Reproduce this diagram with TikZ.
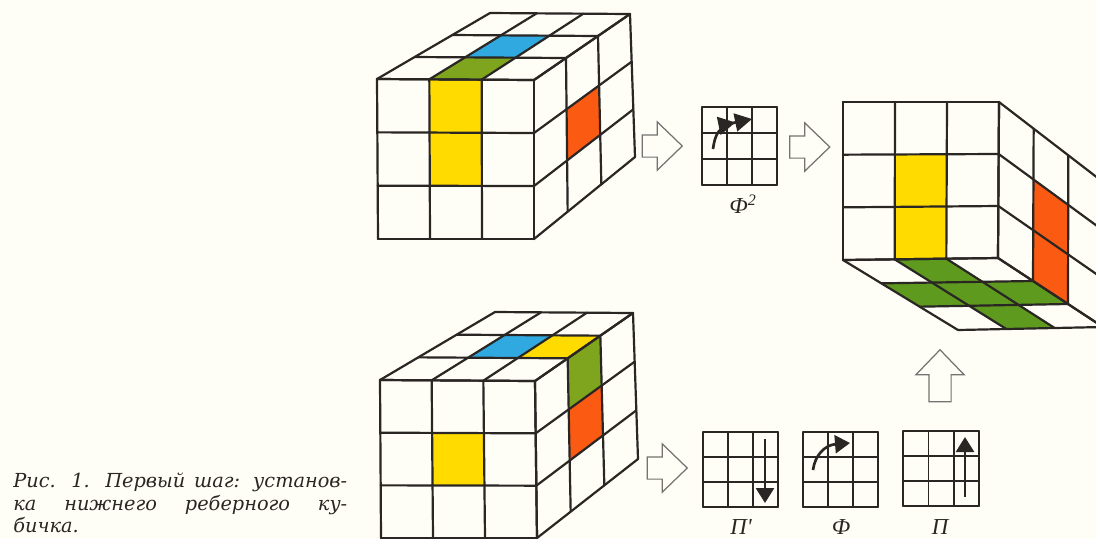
\documentclass[tikz,border=0pt]{standalone}
\usepackage{fontspec}
\setmainfont{DejaVu Serif}
\newfontfamily\labelfont{Liberation Serif}
\usetikzlibrary{arrows.meta,calc,positioning,shapes.arrows}

\definecolor{paper}{HTML}{FEFDF6}
\definecolor{inkline}{HTML}{2A2624}
\definecolor{cubeyellow}{HTML}{FFDB00}
\definecolor{cubegreen}{HTML}{7FA51E}
\definecolor{floorgreen}{HTML}{5E9A1E}
\definecolor{cubeblue}{HTML}{2FA9E0}
\definecolor{cubeorange}{HTML}{FB5A12}

% 3x3 grid on a face with corners a,b,c,d
\newcommand{\facegrid}[5][facegrid]{
  \foreach \k in {0,...,3} {
    \draw[#1] ($(#2)!\k/3!(#3)$) -- ($(#5)!\k/3!(#4)$);
    \draw[#1] ($(#2)!\k/3!(#5)$) -- ($(#3)!\k/3!(#4)$);
  }
}
% one cell of that grid: corners, column, row, colour
\newcommand{\facecell}[7]{
  \pgfmathsetmacro{\ca}{#5/3}\pgfmathsetmacro{\cb}{(#5+1)/3}
  \pgfmathsetmacro{\ra}{#6/3}\pgfmathsetmacro{\rb}{(#6+1)/3}
  \fill[#7] ($($(#1)!\ca!(#2)$)!\ra!($(#4)!\ca!(#3)$)$)
    -- ($($(#1)!\cb!(#2)$)!\ra!($(#4)!\cb!(#3)$)$)
    -- ($($(#1)!\cb!(#2)$)!\rb!($(#4)!\cb!(#3)$)$)
    -- ($($(#1)!\ca!(#2)$)!\rb!($(#4)!\ca!(#3)$)$) -- cycle;
}

\begin{document}
\begin{tikzpicture}[
  x=0.02cm, y=-0.02cm,
  facegrid/.style={draw=inkline, line width=1.25pt, line cap=round},
  movegrid/.style={draw=inkline, line width=0.95pt, line cap=round},
  blockarrow/.style={single arrow, draw=inkline!65, fill=paper, line width=0.7pt,
    minimum height=0.8cm, inner xsep=0pt, inner ysep=0.21cm,
    single arrow head extend=0.26cm, single arrow tip angle=88},
  movearrow/.style={draw=inkline, line width=1.5pt,
    -{Triangle[length=0.3cm,width=0.36cm]}},
  movelabel/.style={font=\labelfont\itshape\fontsize{13}{13}\selectfont, text=inkline},
]
\clip (0,0) rectangle (1096,539);
\fill[paper] (0,0) rectangle (1096,539);

% upper cube
\coordinate (ua) at (377,79);  \coordinate (ub) at (534,80);
\coordinate (uc) at (534,239); \coordinate (ud) at (378,239);
\coordinate (ue) at (490,13);  \coordinate (uf) at (630,14);
\coordinate (ug) at (635,157);
\facecell{ua}{ub}{uc}{ud}{1}{0}{cubeyellow}
\facecell{ua}{ub}{uc}{ud}{1}{1}{cubeyellow}
\facecell{ue}{uf}{ub}{ua}{1}{1}{cubeblue}
\facecell{ue}{uf}{ub}{ua}{1}{2}{cubegreen}
\facecell{ub}{uf}{ug}{uc}{1}{1}{cubeorange}
\facegrid{ua}{ub}{uc}{ud}
\facegrid{ue}{uf}{ub}{ua}
\facegrid{ub}{uf}{ug}{uc}

% lower cube
\coordinate (la) at (380,380); \coordinate (lb) at (535,381);
\coordinate (lc) at (537,538); \coordinate (ld) at (381,538);
\coordinate (le) at (495,312); \coordinate (lf) at (633,313);
\coordinate (lg) at (638,459);
\facecell{la}{lb}{lc}{ld}{1}{1}{cubeyellow}
\facecell{le}{lf}{lb}{la}{1}{1}{cubeblue}
\facecell{le}{lf}{lb}{la}{2}{1}{cubeyellow}
\facecell{lb}{lf}{lg}{lc}{1}{0}{cubegreen}
\facecell{lb}{lf}{lg}{lc}{1}{1}{cubeorange}
\facegrid{la}{lb}{lc}{ld}
\facegrid{le}{lf}{lb}{la}
\facegrid{lb}{lf}{lg}{lc}

% turned cube, seen from below
\coordinate (ta) at (843,102); \coordinate (tb) at (999,102);
\coordinate (tc) at (998,258); \coordinate (td) at (843,260);
\coordinate (te) at (1103,182); \coordinate (tf) at (1103,327);
\coordinate (tg) at (958,330);
\facecell{ta}{tb}{tc}{td}{1}{1}{cubeyellow}
\facecell{ta}{tb}{tc}{td}{1}{2}{cubeyellow}
\facecell{tb}{te}{tf}{tc}{1}{1}{cubeorange}
\facecell{tb}{te}{tf}{tc}{1}{2}{cubeorange}
\facecell{td}{tc}{tf}{tg}{1}{0}{floorgreen}
\facecell{td}{tc}{tf}{tg}{0}{1}{floorgreen}
\facecell{td}{tc}{tf}{tg}{1}{1}{floorgreen}
\facecell{td}{tc}{tf}{tg}{2}{1}{floorgreen}
\facecell{td}{tc}{tf}{tg}{1}{2}{floorgreen}
\facegrid{ta}{tb}{tc}{td}
\facegrid{tb}{te}{tf}{tc}
\facegrid{td}{tc}{tf}{tg}

% move grids
\coordinate (ma) at (702,107); \coordinate (mb) at (777,107);
\coordinate (mc) at (777,185); \coordinate (md) at (702,185);
\facegrid[movegrid]{ma}{mb}{mc}{md}
\coordinate (na) at (703,432); \coordinate (nb) at (778,432);
\coordinate (nc) at (778,507); \coordinate (nd) at (703,507);
\facegrid[movegrid]{na}{nb}{nc}{nd}
\coordinate (oa) at (803,432); \coordinate (ob) at (878,432);
\coordinate (oc) at (878,507); \coordinate (od) at (803,507);
\facegrid[movegrid]{oa}{ob}{oc}{od}
\coordinate (pa) at (903,431); \coordinate (pb) at (979,431);
\coordinate (pc) at (979,506); \coordinate (pd) at (903,506);
\facegrid[movegrid]{pa}{pb}{pc}{pd}

% move arrows
\coordinate (ms) at (713,149); \coordinate (mt) at (752,119);
\draw[draw=inkline, line width=1.5pt,
  -{Triangle[length=0.34cm,width=0.36cm]Triangle[length=0.34cm,width=0.36cm]}]
  (ms) .. controls (715,135) and (718,126) .. (mt);
\coordinate (ns) at (765,439); \coordinate (nt) at (765,503);
\draw[movearrow] (ns) -- (nt);
\coordinate (os) at (813,470); \coordinate (ot) at (850,443);
\draw[movearrow] (os) .. controls (815,455) and (825,445) .. (ot);
\coordinate (ps) at (965,497); \coordinate (pt) at (965,437);
\draw[movearrow] (ps) -- (pt);

% block arrows
\node[blockarrow] (stepa) at (656.5,146) {};
\node[blockarrow] (stepb) at (804,147) {};
\node[blockarrow] (stepc) at (661.5,468) {};
\node[blockarrow, rotate=90, minimum height=1.04cm] (stepd) at (940,381.5) {};

% labels
\node[movelabel] (phisq) at (743,204) {Ф\textsuperscript{2}};
\node[movelabel] (pprime) at (741,527) {П'};
\node[movelabel] (phi) at (841,527) {Ф};
\node[movelabel] (pdown) at (940,527) {П};

\node[anchor=north west, inner sep=0pt, align=left, text=inkline,
  font=\itshape\fontsize{11}{12.8}\selectfont] (caption) at (13,473) {%
  \makebox[6.68cm][s]{Рис. 1. Первый шаг: установ-}\\
  \makebox[6.68cm][s]{ка нижнего реберного ку-}\\
  бичка.};
\end{tikzpicture}
\end{document}
